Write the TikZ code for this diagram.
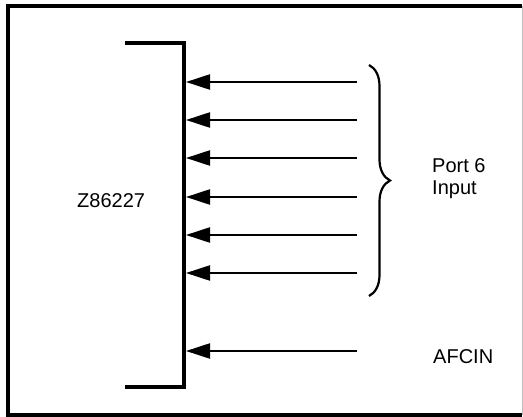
\documentclass[tikz,border=0pt]{standalone}
\usepackage{fontspec}
\setmainfont{Liberation Sans}
\usetikzlibrary{arrows.meta,decorations.pathreplacing}
\tikzset{
  every picture/.style={font={\fontsize{20}{22}\selectfont}, >={Triangle[length=24pt,width=15pt]}},
  frameline/.style={line width=4pt},
  bracket/.style={line width=4pt},
  inline/.style={line width=2.2pt}}

\begin{document}
\begin{tikzpicture}[x=1pt, y=-1pt]
    \useasboundingbox (0,0) rectangle (523,417);

    % outer frame
    \draw[frameline] (522,6) -- (8,6) -- (8,415) -- (522,415);
    \draw[gray!50, line width=1pt] (522,6) -- (522,415);

    % chip edge
    \draw[bracket] (125,43) -- (184,43) -- (184,387) -- (125,387);
    \node[anchor=base west, inner sep=0pt] (Z) at (77,208) {Z86227};

    % port 6 lines
    \foreach \i/\y in {1/82, 2/120, 3/158, 4/197, 5/235, 6/273, 7/351} {
      \coordinate (in\i) at (357,\y);
      \coordinate (pin\i) at (186,\y);
      \draw[inline, ->] (in\i) -- (pin\i);
    }

    \draw[line width=2.2pt, decorate, decoration={brace, amplitude=21pt}]
      (369,65) -- (369,296);
    \node[anchor=base west, inner sep=0pt] (P) at (432,173) {Port 6};
    \node[anchor=base west, inner sep=0pt] (I) at (432,195) {Input};

    \node[anchor=base west, inner sep=0pt] (AF) at (433,363) {AFCIN};
\end{tikzpicture}
\end{document}
